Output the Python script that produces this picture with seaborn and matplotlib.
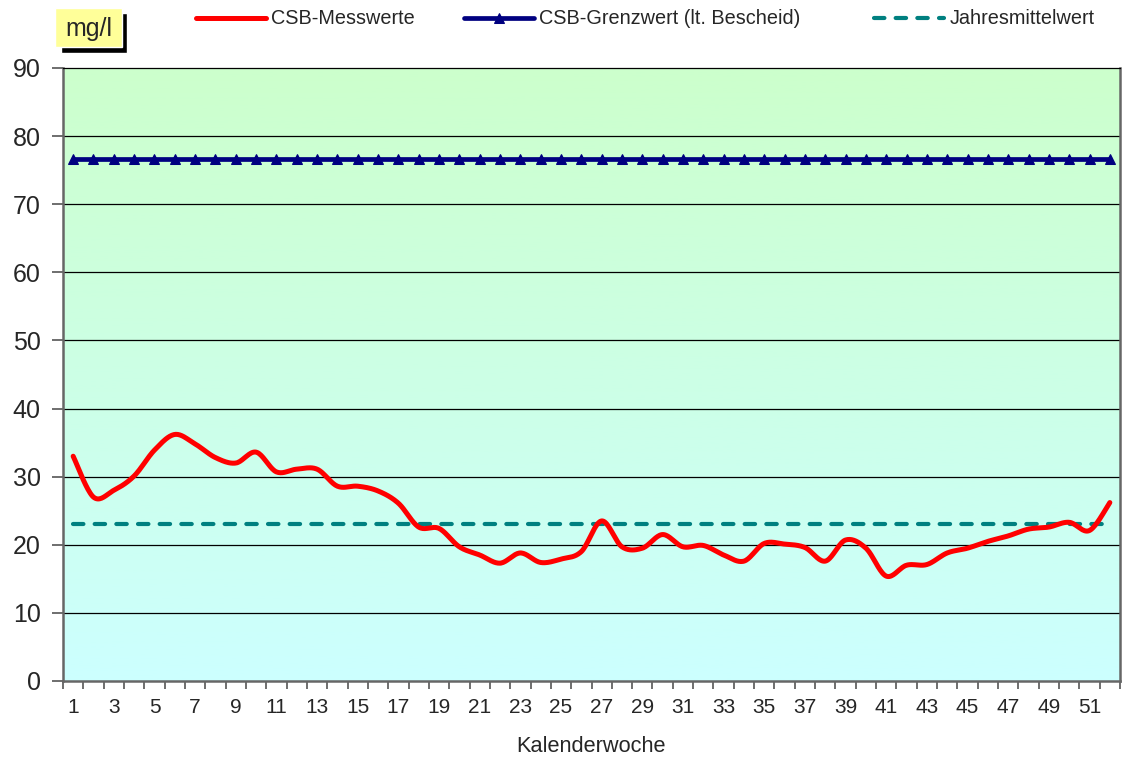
import numpy as np
import pandas as pd
import seaborn as sns
import matplotlib.pyplot as plt
from matplotlib.patches import Rectangle

# --- data ---
weeks = list(range(1, 53))
csb_values = [33.0, 27.0, 28.0, 30.1, 33.9, 36.2, 34.8, 32.8, 32.0, 33.6,
              30.7, 31.1, 31.1, 28.6, 28.6, 27.9, 26.1, 22.6, 22.4, 19.7,
              18.5, 17.3, 18.8, 17.4, 17.9, 19.0, 23.5, 19.7, 19.5, 21.5,
              19.7, 19.9, 18.5, 17.6, 20.2, 20.1, 19.6, 17.6, 20.7, 19.5,
              15.4, 17.0, 17.1, 18.8, 19.5, 20.5, 21.3, 22.3, 22.6, 23.3,
              22.1, 26.2]
grenzwert = 76.7
jahresmittel = 23.0
y_ticks = list(range(0, 100, 10))
x_tick_labels = list(range(1, 53, 2))


def smooth(xs, ys, n=20):
    # Catmull-Rom, like Excel's "smoothed line"
    px = np.asarray(xs, float)
    py = np.asarray(ys, float)
    px = np.concatenate([[px[0]], px, [px[-1]]])
    py = np.concatenate([[py[0]], py, [py[-1]]])
    out_x, out_y = [], []
    t = np.linspace(0, 1, n, endpoint=False)
    for i in range(1, len(px) - 2):
        for p, out in ((px, out_x), (py, out_y)):
            p0, p1, p2, p3 = p[i - 1], p[i], p[i + 1], p[i + 2]
            out.extend(0.5 * (2 * p1 + (-p0 + p2) * t
                              + (2 * p0 - 5 * p1 + 4 * p2 - p3) * t ** 2
                              + (-p0 + 3 * p1 - 3 * p2 + p3) * t ** 3))
    out_x.append(xs[-1])
    out_y.append(ys[-1])
    return pd.DataFrame({"woche": out_x, "csb": out_y})


sns.set_style("white")
plt.rcParams['font.family'] = ['Liberation Sans', 'DejaVu Sans']

fig = plt.figure(figsize=(11.25, 7.6), dpi=100)
ax = fig.add_axes([63 / 1125, 1 - 681 / 760, 1057 / 1125, 613 / 760])

# gradient background
grad = np.linspace(0, 1, 256)[:, None]
top = np.array([204, 255, 204]) / 255
bottom = np.array([204, 255, 255]) / 255
img = top[None, None, :] * (1 - grad[..., None]) + bottom[None, None, :] * grad[..., None]
ax.imshow(img, extent=(0.5, 52.5, 0, 90), aspect="auto", zorder=0)

for y in y_ticks[1:-1]:
    ax.axhline(y, color="black", lw=0.9, zorder=1)

dense = smooth(weeks, csb_values)
sns.lineplot(data=dense, x="woche", y="csb", sort=False, estimator=None,
             color="#FF0000", lw=3.6, label="CSB-Messwerte", ax=ax, zorder=4)
sns.lineplot(x=weeks, y=[grenzwert] * len(weeks), color="#000080", lw=3.4,
             marker="^", markersize=6.5, markeredgecolor="#000080",
             label="CSB-Grenzwert (lt. Bescheid)", ax=ax, zorder=3)
sns.lineplot(x=weeks, y=[jahresmittel] * len(weeks), color="#008080", lw=3.0,
             dashes=False, label="Jahresmittelwert", ax=ax, zorder=3)
ax.lines[-1].set_dashes((2.5, 2.7))
ax.lines[-1].set_dash_capstyle("round")

# legend entries placed one by one along the top
handles, labels = ax.get_legend_handles_labels()
ax.get_legend().remove()
for h, lab, x0 in zip(handles, labels, [196, 464, 874]):
    fig.legend([h], [lab], loc="center left", bbox_to_anchor=(x0 / 1125, 1 - 19 / 760),
               frameon=False, fontsize=14.3, handlelength=3.5, handletextpad=0.3,
               borderpad=0, borderaxespad=0)

ax.set_xlim(0.5, 52.5)
ax.set_ylim(0, 90)
ax.set_yticks(y_ticks)
ax.set_yticklabels([str(v) for v in y_ticks], fontsize=18)
ax.set_xticks(np.arange(0.5, 53, 1))
ax.set_xticklabels([])
ax.set_xticks(x_tick_labels, minor=True)
ax.set_xticklabels([str(v) for v in x_tick_labels], minor=True, fontsize=15)
ax.tick_params(axis="x", which="major", direction="out", length=6, width=1.2,
               color="#555555", bottom=True)
ax.tick_params(axis="x", which="minor", length=0, pad=12, bottom=True)
ax.tick_params(axis="y", direction="out", length=8, width=1.2, color="#555555",
               left=True, pad=8)
ax.set_xlabel("Kalenderwoche", fontsize=15.7, labelpad=14)
ax.set_ylabel("")

for side in ["left", "bottom", "right"]:
    ax.spines[side].set_color("#666666")
    ax.spines[side].set_linewidth(1.8)
ax.spines["top"].set_color("black")
ax.spines["top"].set_linewidth(0.9)

# unit box with shadow
fig.patches.append(Rectangle((61 / 1125, 1 - 53 / 760), 66 / 1125, 40 / 760,
                             transform=fig.transFigure, facecolor="black", zorder=1))
fig.patches.append(Rectangle((55 / 1125, 1 - 47 / 760), 67 / 1125, 39 / 760,
                             transform=fig.transFigure, facecolor="#FFFF99", zorder=2))
fig.text(88.5 / 1125, 1 - 29 / 760, "mg/l", fontsize=18, ha="center", va="center", zorder=3)

fig.savefig("out.png", dpi=100)
